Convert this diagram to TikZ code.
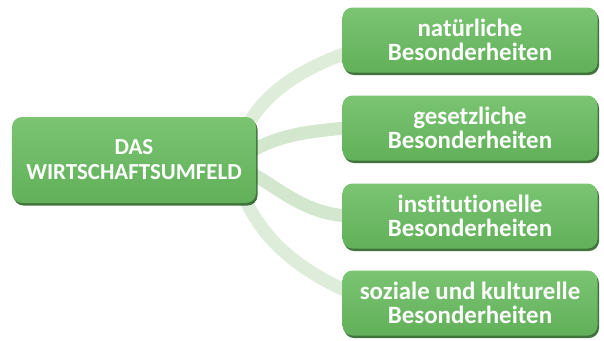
\documentclass[tikz,border=0pt]{standalone}
\usepackage{fontspec}
\setmainfont[RawFeature={-liga;-dlig}]{Carlito}
\usetikzlibrary{shadows,backgrounds}
\definecolor{boxtop}{RGB}{122,196,114}
\definecolor{boxbot}{RGB}{98,176,90}
\definecolor{shadowgreen}{RGB}{44,100,40}
\definecolor{linkA}{RGB}{222,237,218}
\definecolor{linkB}{RGB}{210,231,205}
\tikzset{
  greenbox/.style={rounded corners=10bp, top color=boxtop, bottom color=boxbot,
    draw=none, text=white, align=center, inner sep=0pt,
    font=\bfseries\fontsize{25}{24}\selectfont,
    drop shadow={shadow xshift=1.5bp, shadow yshift=-2.5bp, fill=shadowgreen, opacity=0.9}},
  leftbox/.style={greenbox, minimum width=244bp, minimum height=86bp,
    font=\bfseries\fontsize{23}{25}\selectfont},
  rightbox/.style={greenbox, minimum width=255bp, minimum height=65bp},
  linkA/.style={draw=linkA, line width=13bp},
  linkB/.style={draw=linkB, line width=13bp}
}
\begin{document}
\begin{tikzpicture}[x=1bp,y=-1bp]
\useasboundingbox (0,0) rectangle (604,340);
\node[rightbox] (b1) at (470,40) {natürliche\\Besonderheiten};
\node[rightbox] (b2) at (470,128) {gesetzliche\\Besonderheiten};
\node[rightbox] (b3) at (470,216) {institutionelle\\Besonderheiten};
\node[rightbox] (b4) at (470,303) {soziale und kulturelle\\Besonderheiten};
\node[leftbox] (l) at (134,160) {DAS\\WIRTSCHAFTSUMFELD};
\begin{scope}[on background layer]
\coordinate (hub) at (232,163);
\coordinate (e1) at ([xshift=4bp,yshift=-13bp]b1.west);
\coordinate (e2) at ([xshift=4bp]b2.west);
\coordinate (e3) at ([xshift=4bp]b3.west);
\coordinate (e4) at ([xshift=4bp,yshift=12bp]b4.west);
\draw[linkA] (hub) to[out=75,in=200] (e1);
\draw[linkB] (hub) to[out=35,in=185] (e2);
\draw[linkB] (hub) to[out=-25,in=175] (e3);
\draw[linkA] (hub) to[out=-75,in=155] (e4);
\end{scope}
\end{tikzpicture}
\end{document}
